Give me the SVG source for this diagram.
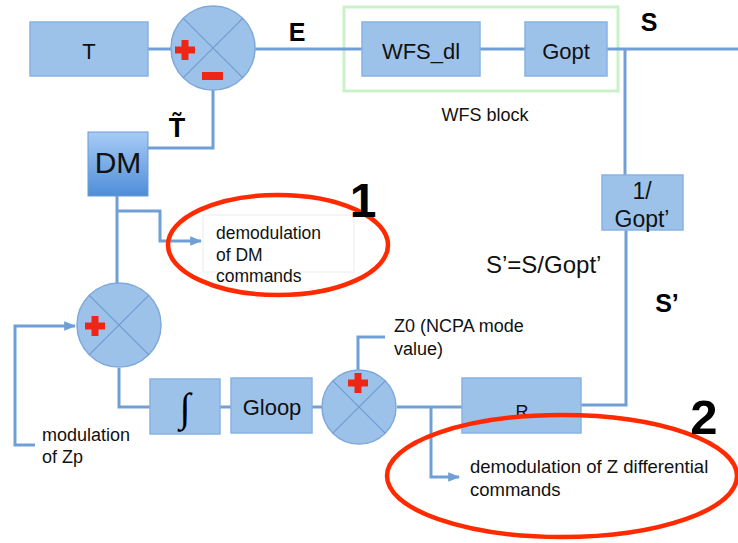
<svg xmlns="http://www.w3.org/2000/svg" width="738" height="543" viewBox="0 0 738 543">
<defs>
<linearGradient id="dmGrad" x1="0" y1="0" x2="0" y2="1">
<stop offset="0" stop-color="#a9cbf5"/>
<stop offset="1" stop-color="#4e8ed8"/>
</linearGradient>
<marker id="arr" viewBox="0 0 10 10" refX="9" refY="5" markerWidth="4" markerHeight="4" orient="auto" markerUnits="strokeWidth">
<path d="M0,1 L10,5 L0,9 z" fill="#6f9fd5"/>
</marker>
</defs>
<style>
.box{fill:#9dc2ea;stroke:#88b2e2;stroke-width:1.5}
.sum{fill:#9dc2ea;stroke:#7fa9db;stroke-width:1.5}
.x{stroke:#6f9bd0;stroke-width:1.2}
.ln{fill:none;stroke:#6f9fd5;stroke-width:3}
.lab{font-family:"Liberation Sans",Arial,sans-serif;fill:#111}
.bold{font-family:"Liberation Sans",Arial,sans-serif;font-weight:bold;fill:#000}
.red{fill:#ee2617}
.ell{fill:none;stroke:#ff2a00;stroke-width:4.5}
</style>
<rect width="738" height="543" fill="#fff"/>

<g id="wfs-block">
<rect x="344" y="7" width="274" height="84" fill="none" stroke="#c9f2c9" stroke-width="3"/>
<text class="lab" x="485" y="121" font-size="18" text-anchor="middle">WFS block</text>
</g>

<g id="connectors">
<polyline class="ln" points="148,49 172,49"/>
<polyline class="ln" points="255,49 362,49"/>
<polyline class="ln" points="480,49 525,49"/>
<polyline class="ln" points="607,49 738,49"/>
<polyline class="ln" points="625,49 625,175"/>
<polyline class="ln" points="626,230 626,405 581,405"/>
<polyline class="ln" points="397,407 462,407"/>
<polyline class="ln" points="431,407 431,477 459,477" marker-end="url(#arr)"/>
<polyline class="ln" points="385,337 358,337 358,370"/>
<polyline class="ln" points="312,407 322,407"/>
<polyline class="ln" points="220,407 231,407"/>
<polyline class="ln" points="119,368 119,407 150,407"/>
<polyline class="ln" points="117,196 117,283"/>
<polyline class="ln" points="117,211 160,211 160,241 201,241" marker-end="url(#arr)"/>
<polyline class="ln" points="148,148 213,148 213,90"/>
<polyline class="ln" points="35,445 15,445 15,326 75,326" marker-end="url(#arr)"/>
</g>

<g id="T">
<rect class="box" x="30" y="22" width="118" height="54"/>
<text class="lab" x="89" y="59" font-size="22" text-anchor="middle">T</text>
</g>

<g id="sum1">
<circle class="sum" cx="213" cy="48" r="42"/>
<line class="x" x1="183.3" y1="18.3" x2="242.7" y2="77.7"/>
<line class="x" x1="242.7" y1="18.3" x2="183.3" y2="77.7"/>
<rect class="red" x="175" y="46.5" width="20" height="7"/>
<rect class="red" x="181.5" y="40" width="7" height="20"/>
<rect class="red" x="202" y="72" width="21" height="8"/>
</g>

<g id="WFS_dl">
<rect class="box" x="362" y="22" width="118" height="54"/>
<text class="lab" x="421" y="59" font-size="22" text-anchor="middle">WFS_dl</text>
</g>

<g id="Gopt">
<rect class="box" x="525" y="22" width="82" height="54"/>
<text class="lab" x="566" y="59" font-size="22" text-anchor="middle">Gopt</text>
</g>

<g id="invGopt">
<rect class="box" x="602" y="175" width="81" height="55"/>
<text class="lab" x="642" y="199" font-size="23" text-anchor="middle">1/</text>
<text class="lab" x="642" y="227" font-size="23" text-anchor="middle">Gopt’</text>
</g>

<g id="DM">
<rect x="88" y="132" width="60" height="64" fill="url(#dmGrad)" stroke="#6b9bd6" stroke-width="1"/>
<text class="lab" x="118" y="173" font-size="30" text-anchor="middle">DM</text>
</g>

<g id="sum2">
<circle class="sum" cx="119" cy="325" r="42"/>
<line class="x" x1="89.3" y1="295.3" x2="148.7" y2="354.7"/>
<line class="x" x1="148.7" y1="295.3" x2="89.3" y2="354.7"/>
<rect class="red" x="85" y="322.5" width="20" height="7"/>
<rect class="red" x="91.5" y="316" width="7" height="20"/>
</g>

<g id="integrator">
<rect class="box" x="150" y="379" width="70" height="55"/>
<text x="185" y="421" font-size="40" text-anchor="middle" font-family="Liberation Serif,'DejaVu Serif',serif" fill="#000">∫</text>
</g>

<g id="Gloop">
<rect class="box" x="231" y="378" width="81" height="55"/>
<text class="lab" x="272" y="415" font-size="22" text-anchor="middle">Gloop</text>
</g>

<g id="sum3">
<circle class="sum" cx="359" cy="407" r="37"/>
<line class="x" x1="332.8" y1="380.8" x2="385.2" y2="433.2"/>
<line class="x" x1="385.2" y1="380.8" x2="332.8" y2="433.2"/>
<rect class="red" x="348" y="379.5" width="20" height="7"/>
<rect class="red" x="354.5" y="373" width="7" height="20"/>
</g>

<g id="R">
<rect class="box" x="462" y="378" width="119" height="55"/>
<text class="lab" x="522" y="418" font-size="18" text-anchor="middle">R</text>
</g>

<g id="labels">
<text class="bold" x="297" y="41" font-size="25" text-anchor="middle">E</text>
<text class="bold" x="649" y="31" font-size="25" text-anchor="middle">S</text>
<text class="bold" x="177" y="137" font-size="27" text-anchor="middle">T̃</text>
<text class="lab" x="486" y="273" font-size="24">S’=S/Gopt’</text>
<text class="bold" x="667" y="312" font-size="25" text-anchor="middle">S’</text>
<text class="lab" x="394" y="332" font-size="18">Z0 (NCPA mode</text>
<text class="lab" x="394" y="355" font-size="18">value)</text>
<text class="lab" x="42" y="441" font-size="18">modulation</text>
<text class="lab" x="42" y="463" font-size="18">of Zp</text>
</g>

<g id="note1">
<ellipse class="ell" cx="278" cy="245" rx="110" ry="50"/>
<rect x="203" y="215" width="151" height="57" fill="#fff" stroke="#ececec" stroke-width="1"/>
<text class="lab" x="216" y="239" font-size="17.5">demodulation</text>
<text class="lab" x="216" y="261" font-size="17.5">of DM</text>
<text class="lab" x="216" y="282" font-size="17.5">commands</text>
<text class="bold" x="363" y="217" font-size="48" text-anchor="middle">1</text>
</g>

<g id="note2">
<ellipse class="ell" cx="562" cy="476" rx="175" ry="61"/>
<text class="lab" x="470" y="473" font-size="18.5">demodulation of Z differential</text>
<text class="lab" x="470" y="496" font-size="18.5">commands</text>
<text class="bold" x="704" y="434" font-size="49" text-anchor="middle">2</text>
</g>
</svg>
